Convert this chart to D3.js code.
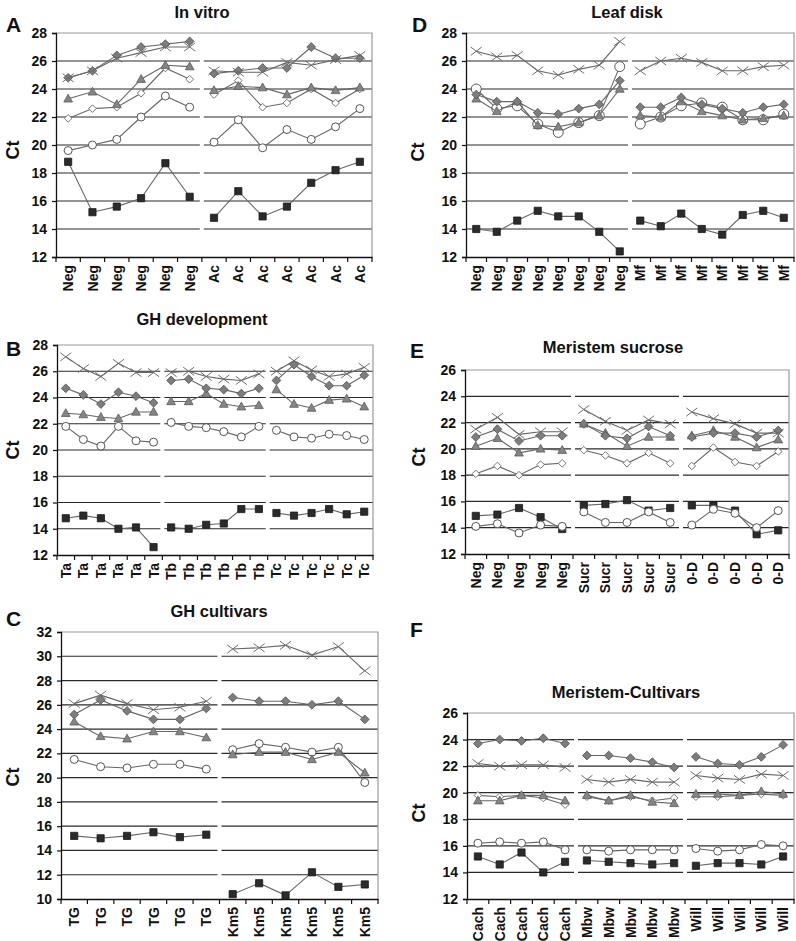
<!DOCTYPE html>
<html><head><meta charset="utf-8">
<script src="https://cdn.jsdelivr.net/npm/d3@7"></script>
<style>
body{margin:0;background:#fff;}
svg{display:block;font-family:"Liberation Sans",Arial,sans-serif;}
</style></head>
<body><svg id="c" width="796" height="941"></svg>
<script>
// ---------- DATA ----------
const A_cats = ["Neg","Neg","Neg","Neg","Neg","Neg","Ac","Ac","Ac","Ac","Ac","Ac","Ac"];
const A_yTicks = [12,14,16,18,20,22,24,26,28];
const A_square   = [18.8,15.2,15.6,16.2,18.7,16.3, 14.8,16.7,14.9,15.6,17.3,18.2,18.8];
const A_circle   = [19.6,20.0,20.4,22.0,23.5,22.7, 20.2,21.8,19.8,21.1,20.4,21.3,22.6];
const A_odiamond = [21.9,22.6,22.7,23.7,25.5,24.7, 23.6,24.6,22.7,23.0,24.0,23.0,24.0];
const A_triangle = [23.3,23.8,22.9,24.7,25.7,25.6, 23.9,24.2,24.1,23.6,24.1,23.9,24.1];
const A_diamond  = [24.8,25.3,26.4,27.0,27.2,27.4, 25.1,25.3,25.5,25.5,27.0,26.2,26.2];
const A_cross    = [24.8,25.3,26.2,26.6,27.0,27.0, 25.3,25.2,25.2,25.9,25.7,26.1,26.4];

const D_cats = ["Neg","Neg","Neg","Neg","Neg","Neg","Neg","Neg","Mf","Mf","Mf","Mf","Mf","Mf","Mf","Mf"];
const D_yTicks = [12,14,16,18,20,22,24,26,28];
const D_square   = [14.0,13.8,14.6,15.3,14.9,14.9,13.8,12.4, 14.6,14.2,15.1,14.0,13.6,15.0,15.3,14.8];
const D_circle   = [24.0,22.6,22.8,21.5,20.9,21.6,22.1,25.6, 21.5,22.0,22.8,23.0,22.7,21.8,21.8,22.2];
const D_triangle = [23.3,22.4,23.1,21.4,21.3,21.6,22.1,24.0, 22.1,22.0,23.1,22.4,22.1,21.8,21.9,22.1];
const D_diamond  = [23.6,23.1,23.1,22.3,22.2,22.6,22.9,24.6, 22.7,22.7,23.4,22.9,22.6,22.3,22.7,22.9];
const D_cross    = [26.7,26.3,26.4,25.3,25.0,25.4,25.7,27.4, 25.3,26.0,26.2,25.9,25.3,25.3,25.6,25.7];

const B_cats = ["Ta","Ta","Ta","Ta","Ta","Ta","Tb","Tb","Tb","Tb","Tb","Tb","Tc","Tc","Tc","Tc","Tc","Tc"];
const B_yTicks = [12,14,16,18,20,22,24,26,28];
const B_square   = [14.8,15.0,14.8,14.0,14.1,12.6, 14.1,14.0,14.3,14.4,15.5,15.5, 15.2,15.0,15.2,15.5,15.1,15.3];
const B_circle   = [21.8,20.8,20.3,21.8,20.7,20.6, 22.1,21.8,21.7,21.4,21.0,21.8, 21.5,21.0,20.9,21.2,21.1,20.8];
const B_triangle = [22.8,22.7,22.5,22.4,22.9,22.9, 23.7,23.7,24.3,23.5,23.3,23.4, 24.6,23.5,23.2,23.8,23.9,23.3];
const B_diamond  = [24.7,24.2,23.5,24.4,24.1,23.6, 25.3,25.4,24.7,24.6,24.3,24.7, 25.3,26.5,25.6,24.9,24.9,25.7];
const B_cross    = [27.1,26.2,25.6,26.6,25.9,25.9, 25.9,26.0,25.6,25.4,25.3,25.8, 26.0,26.8,26.1,25.6,25.8,26.3];

const E_cats = ["Neg","Neg","Neg","Neg","Neg","Sucr","Sucr","Sucr","Sucr","Sucr","0-D","0-D","0-D","0-D","0-D"];
const E_yTicks = [12,14,16,18,20,22,24,26];
const E_square   = [14.9,15.0,15.5,14.8,13.9, 15.7,15.8,16.1,15.3,15.5, 15.7,15.7,15.3,13.5,13.8];
const E_circle   = [14.1,14.3,13.6,14.2,14.1, 15.2,14.4,14.4,15.2,14.4, 14.2,15.4,15.1,14.0,15.3];
const E_odiamond = [18.1,18.7,18.0,18.8,18.9, 19.9,19.5,18.9,19.7,18.9, 18.7,20.1,19.0,18.7,19.8];
const E_triangle = [20.2,20.8,19.7,20.0,19.9, 21.9,21.2,20.2,20.9,20.9, 21.0,21.4,20.9,20.1,20.7];
const E_diamond  = [20.9,21.5,20.6,21.0,21.0, 21.9,21.0,20.8,21.7,21.0, 20.9,21.2,21.2,20.9,21.4];
const E_cross    = [21.5,22.4,21.1,21.3,21.3, 23.0,22.1,21.4,22.2,21.9, 22.8,22.3,21.9,21.2,21.2];

const C_cats = ["TG","TG","TG","TG","TG","TG","Km5","Km5","Km5","Km5","Km5","Km5"];
const C_yTicks = [10,12,14,16,18,20,22,24,26,28,30,32];
const C_square   = [15.2,15.0,15.2,15.5,15.1,15.3, 10.4,11.3,10.3,12.2,11.0,11.2];
const C_circle   = [21.5,20.9,20.8,21.1,21.1,20.7, 22.3,22.8,22.5,22.1,22.5,19.6];
const C_triangle = [24.6,23.4,23.2,23.8,23.8,23.3, 21.9,22.1,22.1,21.5,22.1,20.4];
const C_diamond  = [25.2,26.4,25.5,24.8,24.8,25.7, 26.6,26.3,26.3,26.0,26.3,24.8];
const C_cross    = [26.1,26.8,26.1,25.6,25.8,26.3, 30.6,30.7,30.9,30.1,30.8,28.8];

const F_cats = ["Cach","Cach","Cach","Cach","Cach","Mbw","Mbw","Mbw","Mbw","Mbw","Will","Will","Will","Will","Will"];
const F_yTicks = [12,14,16,18,20,22,24,26];
const F_square   = [15.2,14.6,15.5,14.0,14.8, 14.9,14.8,14.7,14.6,14.7, 14.5,14.7,14.7,14.6,15.2];
const F_circle   = [16.2,16.3,16.2,16.3,15.7, 15.7,15.6,15.7,15.7,15.7, 15.8,15.6,15.7,16.1,16.0];
const F_odiamond = [19.8,19.7,19.8,19.6,19.1, 19.7,19.4,19.7,19.4,19.6, 19.7,19.7,19.8,19.9,19.8];
const F_triangle = [19.4,19.4,19.8,19.8,19.4, 19.8,19.4,19.8,19.3,19.2, 19.9,19.9,19.8,20.1,19.9];
const F_diamond  = [23.7,24.0,23.9,24.1,23.7, 22.8,22.8,22.6,22.3,21.9, 22.7,22.2,22.1,22.7,23.6];
const F_cross    = [22.2,22.0,22.1,22.1,21.9, 21.0,20.8,21.0,20.8,20.8, 21.3,21.1,21.0,21.4,21.3];

// ---------- SYMBOLS ----------
const symSquare = {draw(c,s){const r=Math.sqrt(s);c.moveTo(-r,-r);c.lineTo(r,-r);c.lineTo(r,r);c.lineTo(-r,r);c.closePath();}};
const symDiamond = {draw(c,s){const r=Math.sqrt(s);c.moveTo(0,-r);c.lineTo(r,0);c.lineTo(0,r);c.lineTo(-r,0);c.closePath();}};
const symTriangle = {draw(c,s){const r=Math.sqrt(s);c.moveTo(0,-r);c.lineTo(r*0.95,r*0.7);c.lineTo(-r*0.95,r*0.7);c.closePath();}};
const symCircle = {draw(c,s){const r=Math.sqrt(s);c.moveTo(r,0);c.arc(0,0,r,0,2*Math.PI);}};
const symCross = {draw(c,s){const r=Math.sqrt(s);c.moveTo(-r,-r*0.75);c.lineTo(r,r*0.75);c.moveTo(-r,r*0.75);c.lineTo(r,-r*0.75);}};

const styles = {
  square:   {type:symSquare,   r:3.6, fill:"#2b2b2b", stroke:"#1a1a1a", sw:0.8},
  circle:   {type:symCircle,   r:4.0, fill:"#ffffff", stroke:"#555",    sw:1},
  odiamond: {type:symDiamond,  r:3.8, fill:"#ffffff", stroke:"#777",    sw:1},
  triangle: {type:symTriangle, r:4.6, fill:"#858585", stroke:"#5a5a5a", sw:0.8},
  diamond:  {type:symDiamond,  r:4.4, fill:"#7d7d7d", stroke:"#4f4f4f", sw:0.8},
  cross:    {type:symCross,    r:5.5, fill:"none",    stroke:"#6e6e6e", sw:1}
};

// ---------- PANELS ----------
const panels = [
  {letter:"A", lx:6, ly:32, title:"In vitro", tx:202, ty:18, ctx:13, cty:150,
   l:56, r:372, t:33, b:257, cats:A_cats, ticks:A_yTicks,
   series:[["square",A_square],["circle",A_circle],["odiamond",A_odiamond],["triangle",A_triangle],["diamond",A_diamond],["cross",A_cross]]},
  {letter:"D", lx:412, ly:32, title:"Leaf disk", tx:627, ty:18, ctx:418, cty:152,
   l:466, r:794, t:33, b:257, cats:D_cats, ticks:D_yTicks, circleR:5,
   series:[["square",D_square],["circle",D_circle],["triangle",D_triangle],["diamond",D_diamond],["cross",D_cross]]},
  {letter:"B", lx:6, ly:356, title:"GH development", tx:202, ty:325, ctx:13, cty:450,
   l:57, r:373, t:345, b:555, cats:B_cats, ticks:B_yTicks,
   series:[["square",B_square],["circle",B_circle],["triangle",B_triangle],["diamond",B_diamond],["cross",B_cross]]},
  {letter:"E", lx:410, ly:358, title:"Meristem sucrose", tx:613, ty:353, ctx:419, cty:457,
   l:465, r:789, t:370, b:554, cats:E_cats, ticks:E_yTicks,
   series:[["square",E_square],["circle",E_circle],["odiamond",E_odiamond],["triangle",E_triangle],["diamond",E_diamond],["cross",E_cross]]},
  {letter:"C", lx:6, ly:626, title:"GH cultivars", tx:219, ty:617, ctx:13, cty:777,
   l:61, r:378, t:632, b:899, cats:C_cats, ticks:C_yTicks,
   series:[["square",C_square],["circle",C_circle],["triangle",C_triangle],["diamond",C_diamond],["cross",C_cross]]},
  {letter:"F", lx:410, ly:637, title:"Meristem-Cultivars", tx:626, ty:698, ctx:419, cty:813,
   l:467, r:794, t:713, b:899, cats:F_cats, ticks:F_yTicks,
   series:[["square",F_square],["circle",F_circle],["odiamond",F_odiamond],["triangle",F_triangle],["diamond",F_diamond],["cross",F_cross]]}
];

const svg = d3.select("#c");

panels.forEach(p => {
  const g = svg.append("g");
  const n = p.cats.length;
  const x = d3.scaleBand().domain(d3.range(n)).range([p.l, p.r]).paddingInner(0).paddingOuter(0);
  const y = d3.scaleLinear().domain([p.ticks[0], p.ticks[p.ticks.length-1]]).range([p.b, p.t]);
  const bw = x.bandwidth();

  // groups (consecutive equal labels)
  const groups = [];
  p.cats.forEach((c,i) => {
    if (i===0 || c!==p.cats[i-1]) groups.push({s:i,e:i}); else groups[groups.length-1].e = i;
  });

  // gridlines, broken at group boundaries
  const inner = p.ticks.slice(1, -1);
  groups.forEach((gr, gi) => {
    const x0 = x(gr.s) + (gi===0 ? 0 : 2);
    const x1 = x(gr.e) + bw - (gi===groups.length-1 ? 0 : 2);
    g.selectAll(null).data(inner).enter().append("line")
      .attr("x1", x0).attr("x2", x1)
      .attr("y1", d=>y(d)).attr("y2", d=>y(d))
      .attr("stroke", "#2a2a2a").attr("stroke-width", 1.2);
  });

  // top & right frame
  g.append("path").attr("d", `M${p.l},${p.t}H${p.r}V${p.b}`)
    .attr("fill","none").attr("stroke","#9a9a9a").attr("stroke-width",1.2);

  // y axis
  const ya = g.append("g").attr("transform", `translate(${p.l},0)`)
    .call(d3.axisLeft(y).tickValues(p.ticks).tickSize(4).tickPadding(5).tickFormat(d3.format("d")));
  ya.select(".domain").attr("stroke","#111").attr("stroke-width",1.3);
  ya.selectAll(".tick line").attr("stroke","#111").attr("stroke-width",1.2);
  ya.selectAll("text").attr("font-size",14).attr("font-weight","bold").attr("fill","#111");

  // x axis (labels)
  const xa = g.append("g").attr("transform", `translate(0,${p.b})`)
    .call(d3.axisBottom(x).tickSize(0).tickFormat(i => p.cats[i]));
  xa.select(".domain").attr("stroke","#111").attr("stroke-width",1.3);
  xa.selectAll("text")
    .attr("transform","rotate(-90)").attr("x",-8).attr("y",0).attr("dy","0.36em")
    .attr("text-anchor","end").attr("font-size",14).attr("font-weight","bold").attr("fill","#111");
  // boundary ticks
  g.selectAll(null).data(d3.range(n+1)).enter().append("line")
    .attr("x1", i => i<n ? x(i) : x(n-1)+bw).attr("x2", i => i<n ? x(i) : x(n-1)+bw)
    .attr("y1", p.b).attr("y2", p.b+5).attr("stroke","#111").attr("stroke-width",1.2);

  // series
  p.series.forEach(([key, vals]) => {
    const st = styles[key];
    const line = d3.line().x((d,i)=>x(d.i)+bw/2).y(d=>y(d.v));
    groups.forEach(gr => {
      const pts = d3.range(gr.s, gr.e+1).map(i => ({i, v: vals[i]}));
      g.append("path").attr("d", line(pts)).attr("fill","none")
        .attr("stroke","#666").attr("stroke-width",1.1);
    });
    let r = st.r;
    if (key==="circle" && p.circleR) r = p.circleR;
    const sym = d3.symbol().type(st.type).size(r*r);
    g.selectAll(null).data(vals.map((v,i)=>({v,i}))).enter().append("path")
      .attr("transform", d => `translate(${x(d.i)+bw/2},${y(d.v)})`)
      .attr("d", sym)
      .attr("fill", st.fill).attr("stroke", st.stroke).attr("stroke-width", st.sw);
  });

  // texts
  svg.append("text").attr("x", p.lx).attr("y", p.ly).text(p.letter)
    .attr("font-size",21).attr("font-weight","bold").attr("fill","#111");
  svg.append("text").attr("x", p.tx).attr("y", p.ty).text(p.title).attr("text-anchor","middle")
    .attr("font-size",16.5).attr("font-weight","bold").attr("fill","#111");
  svg.append("text").attr("transform", `translate(${p.ctx + 6},${p.cty}) rotate(-90)`).text("Ct")
    .attr("text-anchor","middle").attr("font-size",18).attr("font-weight","bold").attr("fill","#111");
});
</script></body></html>
